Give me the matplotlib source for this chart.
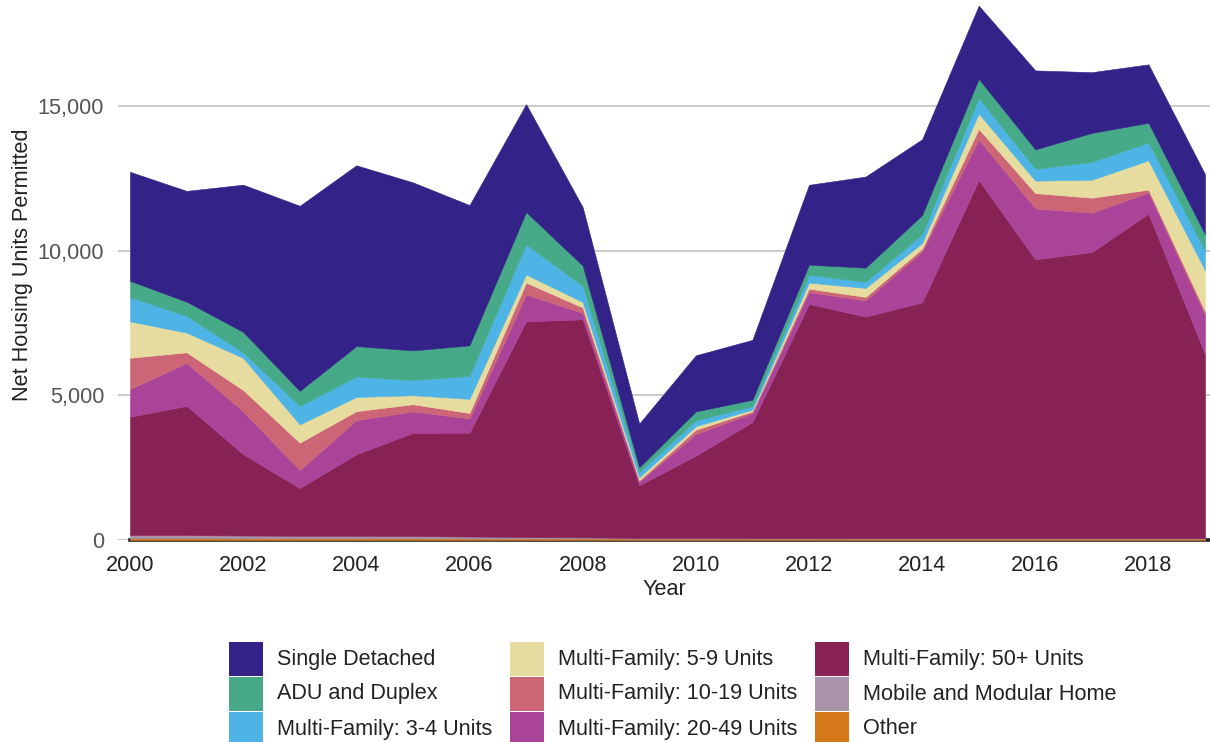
"""
Net housing units permitted per year, stacked by structure type.
"""
import matplotlib
matplotlib.use("Agg")
import matplotlib.pyplot as plt
from matplotlib.patches import Rectangle

plt.rcParams["font.family"] = ["Liberation Sans", "DejaVu Sans"]

years = list(range(2000, 2020))

single_detached = [3770, 3830, 5090, 6400, 6250, 5810, 4850, 3730, 2020, 1510,
                   1940, 2070, 2760, 3150, 2620, 2530, 2730, 2100, 2020, 2080]
adu_duplex = [560, 490, 710, 520, 1050, 1030, 1050, 1120, 700, 160,
              310, 220, 350, 490, 660, 660, 670, 1000, 680, 560]
mf_3_4 = [840, 580, 190, 640, 710, 520, 800, 1040, 560, 190,
          200, 120, 270, 210, 310, 540, 410, 620, 620, 680]
mf_5_9 = [1260, 680, 1110, 630, 490, 310, 490, 280, 190, 100,
          120, 60, 210, 310, 190, 530, 430, 620, 1010, 1420]
mf_10_19 = [1080, 370, 740, 950, 310, 250, 190, 410, 190, 50,
            150, 60, 120, 120, 100, 370, 530, 520, 100, 120]
mf_20_49 = [960, 1480, 1480, 620, 1180, 740, 490, 930, 220, 120,
            750, 310, 410, 560, 1760, 1400, 1760, 1360, 730, 1360]
mf_50_plus = [4090, 4470, 2810, 1650, 2820, 3570, 3590, 7460, 7540, 1820,
              2840, 4010, 8090, 7660, 8150, 12380, 9640, 9890, 11220, 6360]
mobile_modular = [110, 110, 100, 90, 90, 80, 70, 50, 40, 30,
                  30, 25, 25, 20, 20, 20, 20, 20, 20, 20]
other = [60, 60, 55, 55, 55, 55, 50, 50, 50, 45,
         45, 45, 45, 45, 45, 45, 45, 45, 45, 45]

labels = ["Single Detached", "ADU and Duplex", "Multi-Family: 3-4 Units",
          "Multi-Family: 5-9 Units", "Multi-Family: 10-19 Units",
          "Multi-Family: 20-49 Units", "Multi-Family: 50+ Units",
          "Mobile and Modular Home", "Other"]
colors = ["#332288", "#46AA88", "#4EB4E6", "#E7DC9F", "#CC6677",
          "#AA4499", "#882255", "#A893A8", "#D4781A"]
series = [single_detached, adu_duplex, mf_3_4, mf_5_9, mf_10_19,
          mf_20_49, mf_50_plus, mobile_modular, other]

FS = 15.6
W, H = 1210, 742
fig = plt.figure(figsize=(W / 100, H / 100), dpi=100)
ax = fig.add_axes([118 / W, (H - 540) / H, 1 - 118 / W, 540 / H])

# stack from the bottom up: Other first, Single Detached on top
ax.stackplot(years, series[::-1], colors=colors[::-1],
             linewidth=0.4, edgecolor="face", zorder=2)

xlo, xhi = 1999.788, 2019.088
ax.set_xlim(xlo, xhi)
ax.set_ylim(0, 18670)
ax.set_xticks(range(2000, 2019, 2))
ax.set_yticks([0, 5000, 10000, 15000])
ax.yaxis.set_major_formatter(lambda v, _: f"{v:,.0f}")

ax.grid(True, axis="y", color="#cccccc", linewidth=1.5, zorder=0)
ax.set_axisbelow(True)
for side in ax.spines.values():
    side.set_visible(False)
# baseline sits under the fills so only its lower half shows
ax.axhline(0, xmin=(2000 - xlo) / (xhi - xlo), color="#222222",
           linewidth=2.6, clip_on=False, zorder=1)

ax.tick_params(axis="both", length=0, labelsize=FS)
ax.tick_params(axis="y", pad=10, labelcolor="#555555")
ax.tick_params(axis="x", pad=11, labelcolor="#222222")

ax.set_ylabel("Net Housing Units Permitted", fontsize=FS, color="#222222")
ax.yaxis.set_label_coords(-0.078, 0.51)
ax.set_xlabel("Year", fontsize=FS, color="#222222")
ax.xaxis.set_label_coords(0.5, -0.092)
ax.xaxis.label.set_va("center")

# legend: three columns of square swatches under the plot
col_x = [229, 510, 815]
row_top = [642, 677, 712]
for i, (lab, col) in enumerate(zip(labels, colors)):
    cx, ry = col_x[i // 3], row_top[i % 3]
    fig.patches.append(Rectangle((cx / W, (H - ry - 34) / H), 34 / W, 34 / H,
                                 transform=fig.transFigure, facecolor=col,
                                 edgecolor="none"))
    fig.text((cx + 48) / W, (H - ry - 17) / H, lab, fontsize=FS,
             color="#222222", va="center", ha="left")

fig.savefig("out.png", dpi=100)
